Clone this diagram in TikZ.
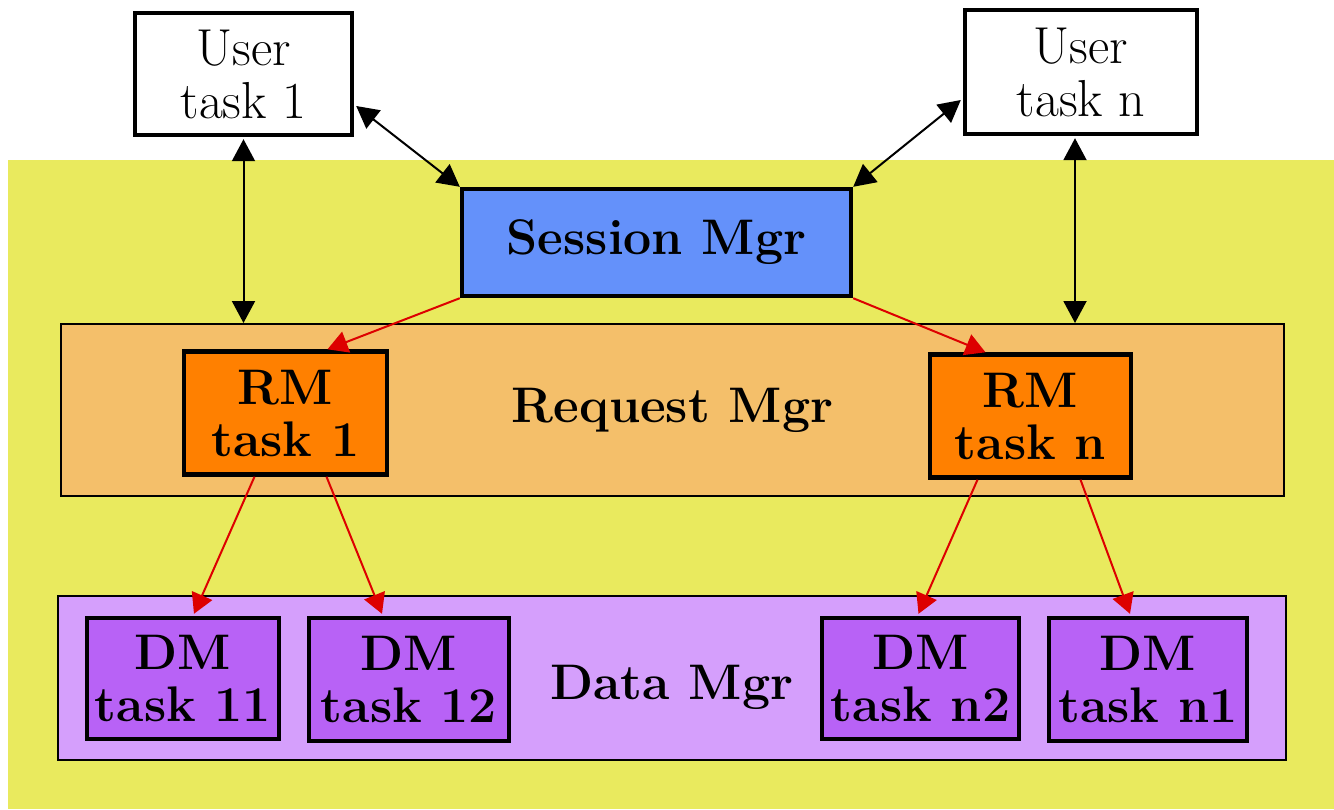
\documentclass[tikz,border=0pt]{standalone}
\usepackage{fontspec}
\usetikzlibrary{arrows.meta}
\definecolor{bgyellow}{HTML}{E9EA5E}
\definecolor{smblue}{HTML}{6491FA}
\definecolor{rqpanel}{HTML}{F4BF6A}
\definecolor{rmorange}{HTML}{FF8000}
\definecolor{dmpanel}{HTML}{D59FFC}
\definecolor{dmpurple}{HTML}{B862F6}
\definecolor{arrred}{HTML}{DD0000}
\tikzset{
  userbox/.style={draw=black, line width=2.2pt, fill=white, align=center, inner sep=0pt,
    font=\fontsize{26}{26.5}\selectfont},
  taskbox/.style={draw=black, line width=2.2pt, align=center, inner sep=0pt,
    font=\fontsize{25}{26}\selectfont\bfseries},
  panel/.style={draw=black, line width=1pt, align=center, inner sep=0pt,
    font=\fontsize{25}{26}\selectfont\bfseries},
  dbl/.style={line width=1pt, black, {Triangle[length=11pt,width=11.5pt]}-{Triangle[length=11pt,width=11.5pt]}},
  redarr/.style={line width=1pt, arrred, -{Triangle[length=10pt,width=11pt]}}
}
\begin{document}
\begin{tikzpicture}[x=0.5pt,y=-0.5pt]
\useasboundingbox (0,0) rectangle (1334,809);
\fill[white] (0,0) rectangle (1334,809);
\fill[bgyellow] (8,160) rectangle (1334,809);

\node[userbox, minimum width=108.5pt, minimum height=61pt] (u1) at (243.5,74) {User\\task 1};
\node[userbox, minimum width=116pt, minimum height=62pt] (un) at (1081,72) {User\\task n};
\node[taskbox, fill=smblue, minimum width=194.5pt, minimum height=53.5pt] (sm) at (656.5,242.5) {Session Mgr};

\node[panel, fill=rqpanel, minimum width=611.5pt, minimum height=86pt] (rp) at (672.5,410) {Request Mgr};
\node[taskbox, fill=rmorange, minimum width=101.5pt, minimum height=61.5pt] (rm1) at (285.5,413) {RM\\task 1};
\node[taskbox, fill=rmorange, minimum width=100.5pt, minimum height=61.5pt] (rmn) at (1030.5,416) {RM\\task n};

\node[panel, fill=dmpanel, minimum width=614pt, minimum height=82pt] (dp) at (672,678) {\raisebox{-10.5pt}[0pt][0pt]{Data Mgr}};
\node[taskbox, fill=dmpurple, minimum width=96pt, minimum height=60.5pt] (dm11) at (183,678.5) {DM\\task 11};
\node[taskbox, fill=dmpurple, minimum width=100pt, minimum height=61.5pt] (dm12) at (409,679.5) {DM\\task 12};
\node[taskbox, fill=dmpurple, minimum width=98.5pt, minimum height=60.5pt] (dmn2) at (920.5,678.5) {DM\\task n2};
\node[taskbox, fill=dmpurple, minimum width=99pt, minimum height=61.5pt] (dmn1) at (1148,679.5) {DM\\task n1};

% black double arrows
\coordinate (u1b) at ([yshift=-1pt]u1.south);
\draw[dbl] (u1b) -- (u1b |- rp.north);
\coordinate (unb) at ([xshift=-3pt,yshift=-1pt]un.south);
\draw[dbl] (unb) -- (unb |- rp.north);
\draw[dbl] ([xshift=1pt,yshift=-16pt]u1.east) -- (sm.north west);
\draw[dbl] ([xshift=-1pt,yshift=-14pt]un.west) -- (sm.north east);

% red arrows
\draw[redarr] (sm.south west) -- ([xshift=21pt]rm1.north);
\draw[redarr] (sm.south east) -- ([xshift=-22.5pt]rmn.north);
\draw[redarr] ([xshift=-15.5pt]rm1.south) -- ([xshift=5.5pt,yshift=1pt]dm11.north);
\draw[redarr] ([xshift=20.5pt]rm1.south) -- ([xshift=-13.5pt,yshift=1pt]dm12.north);
\draw[redarr] ([xshift=-26.5pt]rmn.south) -- ([xshift=-1pt,yshift=1pt]dmn2.north);
\draw[redarr] ([xshift=25pt]rmn.south) -- ([xshift=-9pt,yshift=1pt]dmn1.north);
\end{tikzpicture}
\end{document}
